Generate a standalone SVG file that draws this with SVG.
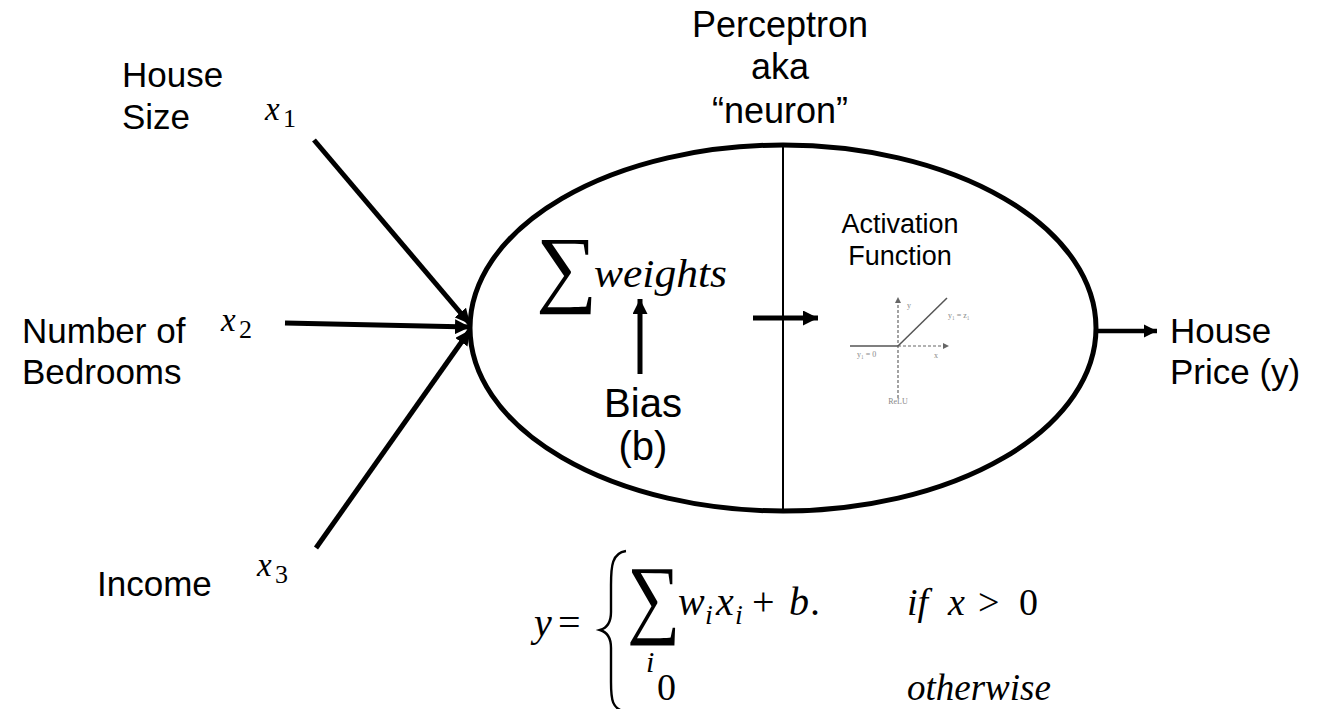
<svg xmlns="http://www.w3.org/2000/svg" width="1324" height="709" viewBox="0 0 1324 709">
<defs>
<style>
.lbl{font-family:"Liberation Sans",Arial,sans-serif;fill:#000}
.math{font-family:"Liberation Serif","DejaVu Serif",serif;font-style:italic;fill:#000}
.mr{font-family:"Liberation Serif","DejaVu Serif",serif;fill:#000}
.conn{stroke:#000;stroke-width:5;fill:none;marker-end:url(#ah)}
.tiny{font-family:"Liberation Serif",serif;fill:#888}
</style>
<marker id="ah" viewBox="0 0 10 10" refX="10" refY="5" markerWidth="3" markerHeight="3" orient="auto">
<path d="M0,0 L10,5 L0,10 z" fill="#000"/>
</marker>
</defs>
<rect width="1324" height="709" fill="#fff"/>

<g id="perceptron">
<ellipse cx="783" cy="328" rx="313" ry="183" fill="none" stroke="#000" stroke-width="5"/>
<line x1="783" y1="145" x2="783" y2="511" stroke="#000" stroke-width="2"/>
</g>

<g id="title">
<text class="lbl" x="780" y="37" text-anchor="middle" font-size="36">Perceptron</text>
<text class="lbl" x="780" y="79" text-anchor="middle" font-size="36">aka</text>
<text class="lbl" x="780" y="123" text-anchor="middle" font-size="36">“neuron”</text>
</g>

<g id="sum">
<text class="mr" x="536" y="296" font-size="86">∑</text>
<text class="math" x="594" y="287" font-size="40" textLength="133" lengthAdjust="spacingAndGlyphs">weights</text>
</g>

<g id="bias">
<text class="lbl" x="643" y="417" text-anchor="middle" font-size="40">Bias</text>
<text class="lbl" x="643" y="460" text-anchor="middle" font-size="40">(b)</text>
</g>

<g id="activation">
<text class="lbl" x="900" y="233" text-anchor="middle" font-size="27">Activation</text>
<text class="lbl" x="900" y="265" text-anchor="middle" font-size="27">Function</text>
<g id="relu-plot">
<line x1="898" y1="398" x2="898" y2="300" stroke="#666" stroke-width="1.2" stroke-dasharray="3,2"/>
<path d="M895,303 L898,297 L901,303 z" fill="#666"/>
<line x1="898" y1="346" x2="945" y2="346" stroke="#666" stroke-width="1.2" stroke-dasharray="3,2"/>
<path d="M943,343 L949,346 L943,349 z" fill="#666"/>
<line x1="850" y1="346" x2="898" y2="346" stroke="#555" stroke-width="1.5"/>
<line x1="898" y1="346" x2="947" y2="298" stroke="#555" stroke-width="1.5"/>
<text class="tiny" x="907" y="308" font-size="8">y</text>
<text class="tiny" x="948" y="318" font-size="8">y₁ = z₁</text>
<text class="tiny" x="857" y="357" font-size="8">y₁ = 0</text>
<text class="tiny" x="934" y="358" font-size="8">x</text>
<text class="tiny" x="898" y="404" text-anchor="middle" font-size="8">ReLU</text>
</g>
</g>

<g id="input1">
<text class="lbl" x="122" y="87" font-size="35">House</text>
<text class="lbl" x="122" y="129" font-size="35">Size</text>
<text class="math" x="265" y="120" font-size="33">x</text>
<text class="mr" x="283" y="127" font-size="26">1</text>
</g>

<g id="input2">
<text class="lbl" x="22" y="343" font-size="35">Number of</text>
<text class="lbl" x="22" y="384" font-size="35">Bedrooms</text>
<text class="math" x="221" y="331" font-size="33">x</text>
<text class="mr" x="239" y="338" font-size="26">2</text>
</g>

<g id="input3">
<text class="lbl" x="97" y="596" font-size="35">Income</text>
<text class="math" x="257" y="576" font-size="33">x</text>
<text class="mr" x="275" y="583" font-size="26">3</text>
</g>

<g id="output">
<text class="lbl" x="1170" y="343" font-size="35">House</text>
<text class="lbl" x="1170" y="384" font-size="35">Price (y)</text>
</g>

<g id="connectors">
<line class="conn" x1="314" y1="140" x2="470" y2="324"/>
<line class="conn" x1="285" y1="323" x2="470" y2="327"/>
<line class="conn" x1="316" y1="548" x2="470" y2="330"/>
<line class="conn" x1="640" y1="374" x2="640" y2="299"/>
<line class="conn" x1="753" y1="318" x2="818" y2="318"/>
<line class="conn" x1="1097" y1="331" x2="1157" y2="331" style="stroke-width:4.5"/>
</g>

<g id="formula">
<text class="math" x="534" y="636" font-size="40">y</text>
<text class="mr" x="558" y="636" font-size="40">=</text>
<path d="M626,551 C612,553 611,566 611,585 L611,612 C611,622 607,628 600,630 C607,632 611,638 611,648 L611,682 C611,700 612,709 626,712" fill="none" stroke="#000" stroke-width="2.4"/>
<text class="mr" font-size="88" transform="translate(627,627) scale(0.85,1)">∑</text>
<text class="math" x="646" y="672" font-size="30">i</text>
<text class="math" x="678" y="615" font-size="40">w</text>
<text class="math" x="705" y="624" font-size="28">i</text>
<text class="math" x="716" y="615" font-size="40">x</text>
<text class="math" x="735" y="624" font-size="28">i</text>
<text class="mr" x="752" y="615" font-size="40">+</text>
<text class="math" x="789" y="615" font-size="40">b</text>
<text class="mr" x="810" y="615" font-size="40">.</text>
<text class="math" x="907" y="615" font-size="38">if</text>
<text class="math" x="948" y="615" font-size="38">x</text>
<text class="mr" x="978" y="615" font-size="38">&gt;</text>
<text class="mr" x="1019" y="615" font-size="38">0</text>
<text class="mr" x="657" y="700" font-size="38">0</text>
<text class="math" x="907" y="700" font-size="37">otherwise</text>
</g>
</svg>
